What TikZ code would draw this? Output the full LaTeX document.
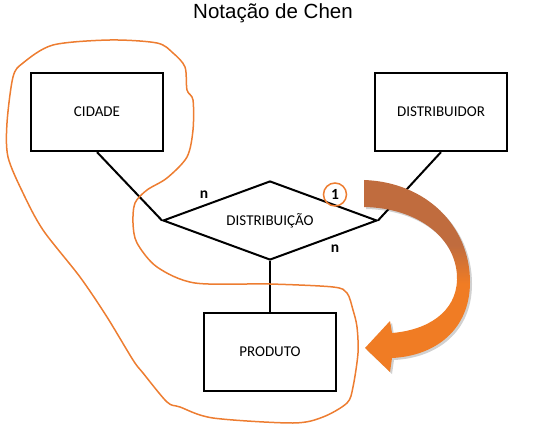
\documentclass[tikz,border=0pt]{standalone}
\usepackage{fontspec}
\setmainfont{Carlito}
\newfontfamily\arialf{Liberation Sans}
\usetikzlibrary{shapes.geometric}
\definecolor{loopc}{RGB}{237,125,49}
\definecolor{orA}{RGB}{240,124,36}
\definecolor{orB}{RGB}{192,108,62}
\pgfdeclareverticalshading{arrowsh}{100bp}{color(0bp)=(orA); color(48bp)=(orA); color(58bp)=(orB); color(100bp)=(orB)}
\tikzset{
  entity/.style={draw, line width=2.2pt, minimum width=132pt, minimum height=78pt, inner sep=0pt, font=\fontsize{15}{18}\selectfont},
  relation/.style={draw, diamond, line width=2pt, minimum width=214pt, minimum height=79pt, aspect=2.7, inner sep=0pt, font=\fontsize{15}{18}\selectfont},
  conn/.style={line width=2pt},
  card/.style={font=\bfseries\fontsize{15.5}{18}\selectfont, inner sep=0pt},
  loopline/.style={draw=loopc, line width=1.5pt},
}
\begin{document}
\begin{tikzpicture}[x=1pt,y=-1pt]
\useasboundingbox (0,0) rectangle (546,446);
\node (title) at (273,13) {\arialf\fontsize{20.5}{23}\selectfont Notação de Chen};
\node[entity] (cid) at (97,112) {CIDADE};
\node[entity] (dist) at (441,112) {DISTRIBUIDOR};
\node[entity] (prod) at (270,352) {PRODUTO};
\node[relation] (rel) at (270,220.5) {DISTRIBUIÇÃO};
\draw[conn] (cid.south) -- (rel.west);
\draw[conn] (dist.south) -- (rel.east);
\draw[conn] (rel.south) -- (prod.north);
\node[card] (n1) at (204,195) {n};
\node[card] (n2) at (335,249) {n};
\node[card, circle, draw=loopc, line width=1.5pt, minimum size=23pt] (one) at (335,194.5) {1};
\path[loopline] plot[smooth cycle, tension=0.5] coordinates {
 (23,63) (53,45) (110,40) (157,43) (173,53) (185,67) (187,90) (193,100) (193,130)
 (187,157) (167,178) (147,190) (135,203) (133,223) (137,243) (157,267) (195,283)
 (270,284) (333,287) (347,293) (353,310) (357,327) (358,353) (353,387) (347,403)
 (323,417) (293,423) (213,418) (180,407) (167,402) (143,373) (133,360) (107,317)
 (80,277) (43,230) (23,193) (8,157) (7,123) (13,77)};
\def\arrowpath{(364,180) .. controls (425,182) and (470,225) .. (470,282)
  .. controls (470,330) and (435,356) .. (392,358) -- (390,372) -- (365,348)
  -- (390,321) -- (392,333) .. controls (428,330) and (456,312) .. (457,280)
  .. controls (458,240) and (420,208) .. (364,207) -- cycle}
\fill[black, opacity=0.18, xshift=2pt, yshift=-2pt] \arrowpath;
\shade[shading=arrowsh] \arrowpath;
\end{tikzpicture}
\end{document}
